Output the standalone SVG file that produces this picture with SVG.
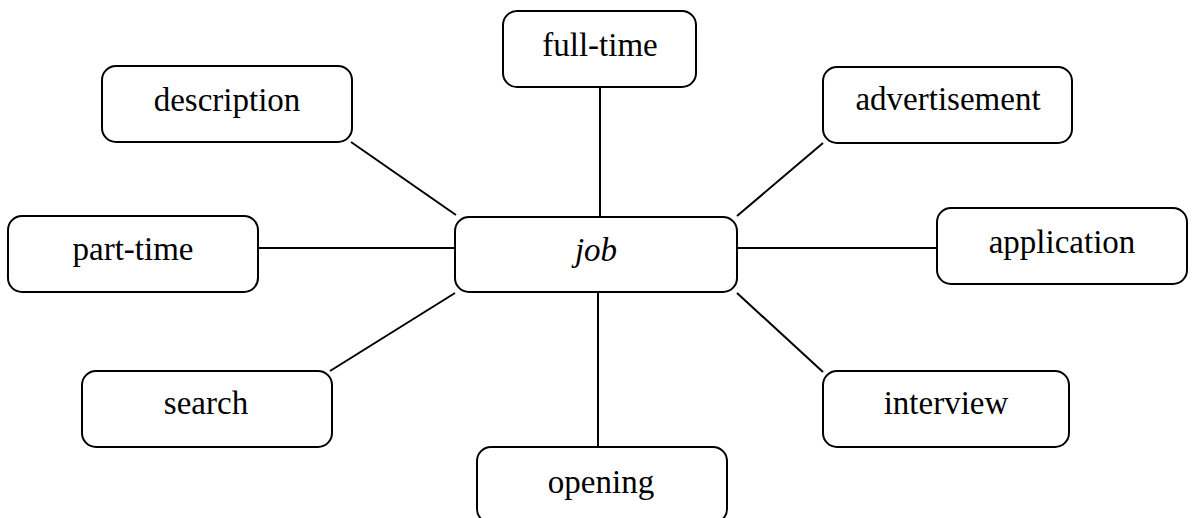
<svg xmlns="http://www.w3.org/2000/svg" width="1192" height="518" viewBox="0 0 1192 518">
  <style>
    .box { fill: #ffffff; stroke: #000000; stroke-width: 2; }
    .link { stroke: #000000; stroke-width: 2; fill: none; }
    .label { font-family: "Liberation Serif", "Times New Roman", serif; font-size: 33px; fill: #000000; text-anchor: middle; }
    .hub { font-style: italic; }
  </style>
  <rect width="1192" height="518" fill="#ffffff"/>

  <!-- spokes from the central node -->
  <g id="connectors">
    <line class="link" x1="600" y1="87" x2="600" y2="217"/>
    <line class="link" x1="351" y1="142" x2="456" y2="215"/>
    <line class="link" x1="823" y1="143" x2="737" y2="216"/>
    <line class="link" x1="258" y1="248" x2="455" y2="248"/>
    <line class="link" x1="737" y1="248" x2="937" y2="248"/>
    <line class="link" x1="455" y1="293" x2="330" y2="371"/>
    <line class="link" x1="737" y1="293" x2="823" y2="372"/>
    <line class="link" x1="598" y1="292" x2="598" y2="447"/>
  </g>

  <g id="node-job">
    <rect class="box" x="455" y="217" width="282" height="75" rx="14"/>
    <text class="label hub" x="596" y="261">job</text>
  </g>
  <g id="node-full-time">
    <rect class="box" x="503" y="11" width="193" height="76" rx="14"/>
    <text class="label" x="600" y="56">full-time</text>
  </g>
  <g id="node-description">
    <rect class="box" x="102" y="66" width="250" height="76" rx="14"/>
    <text class="label" x="227" y="111">description</text>
  </g>
  <g id="node-advertisement">
    <rect class="box" x="823" y="67" width="249" height="76" rx="14"/>
    <text class="label" x="948" y="110">advertisement</text>
  </g>
  <g id="node-part-time">
    <rect class="box" x="8" y="216" width="250" height="76" rx="14"/>
    <text class="label" x="133" y="260">part-time</text>
  </g>
  <g id="node-application">
    <rect class="box" x="937" y="208" width="250" height="76" rx="14"/>
    <text class="label" x="1062" y="253">application</text>
  </g>
  <g id="node-search">
    <rect class="box" x="82" y="371" width="250" height="76" rx="14"/>
    <text class="label" x="206" y="414">search</text>
  </g>
  <g id="node-interview">
    <rect class="box" x="823" y="371" width="246" height="76" rx="14"/>
    <text class="label" x="946" y="414">interview</text>
  </g>
  <g id="node-opening">
    <rect class="box" x="477" y="447" width="250" height="76" rx="14"/>
    <text class="label" x="601" y="493">opening</text>
  </g>
</svg>
